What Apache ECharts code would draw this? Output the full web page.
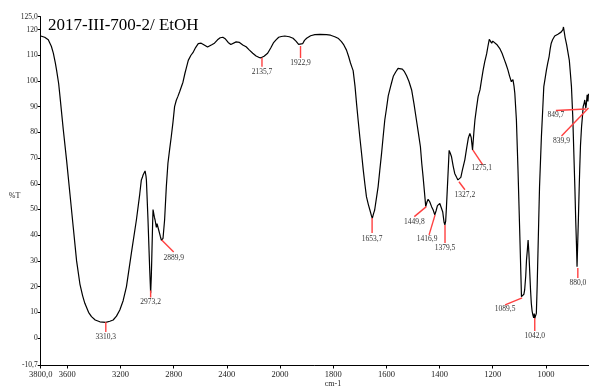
<!DOCTYPE html>
<html><head><meta charset="utf-8">
<script src="https://cdn.jsdelivr.net/npm/echarts@6/dist/echarts.min.js"></script>
<style>html,body{margin:0;padding:0;background:#fff}#c{width:589px;height:389px}</style>
</head><body><div id="c"></div>
<script>
// ---- data ----
const chartTitle = '2017-III-700-2/ EtOH';
const xAxisName = 'cm-1';
const yAxisName = '%T';
const wavenumbers = [3800,3792,3770,3743,3720,3705,3690,3680,3665,3655,3630,3605,3580,3555,3530,3505,3485,3468,3440,3418,3390,3355,3310,3280,3255,3230,3205,3180,3155,3118,3080,3055,3043,3035,3030,3022,3015,3008,3005,2993,2980,2973,2968,2965,2958,2955,2950,2945,2940,2930,2925,2920,2915,2910,2900,2892,2885,2880,2868,2855,2843,2830,2818,2805,2793,2780,2768,2755,2730,2715,2705,2690,2670,2655,2635,2615,2593,2570,2545,2530,2510,2493,2470,2450,2430,2410,2390,2370,2355,2330,2305,2280,2255,2230,2205,2180,2160,2143,2120,2093,2070,2050,2030,2010,1995,1982,1965,1951,1940,1930,1923,1915,1908,1900,1885,1869,1850,1825,1810,1794,1780,1769,1760,1750,1742,1735,1730,1725,1718,1712,1706,1700,1693,1687,1681,1675,1668,1662,1656,1653,1648,1644,1638,1631,1625,1618,1612,1606,1600,1593,1585,1580,1574,1565,1556,1549,1540,1532,1524,1515,1505,1496,1487,1480,1472,1467,1462,1457,1452,1447,1443,1437,1430,1424,1418,1413,1408,1405,1399,1393,1388,1383,1380,1377,1374,1369,1364,1360,1355,1349,1343,1336,1331,1326,1320,1314,1305,1298,1292,1286,1281,1276,1271,1267,1261,1255,1248,1242,1236,1230,1223,1218,1213,1208,1204,1200,1193,1185,1174,1165,1156,1150,1143,1137,1130,1124,1120,1117,1111,1105,1098,1094,1092,1089,1086,1083,1080,1076,1073,1070,1067,1064,1061,1058,1055,1052,1049,1046,1044,1042,1039,1036,1033,1030,1027,1024,1020,1017,1012,1008,1003,998,993,988,984,980,975,967,960,955,949,943,940,936,934,931,928,926,922,917,912,908,904,899,895,891,888,885,883,880,878,875,873,870,866,862,860,856,854,852,850,848,845,842,840];
const transmittance = [117.5,117.5,117,116,113.5,110.8,107,104,99,94,81,69,56,43,30,21,16.5,13.5,10,8.3,7,6.3,6.1,6.5,7,8.5,10.9,14.5,20,33,46,56,61.5,62.5,63.4,62.8,65,63,61.5,46,26.5,17.4,24,30,45,50,50,47,46,43,44.5,44.8,42.5,42,39.5,38,38.3,38.8,46,59,68,73.5,78.3,84,90,92.5,94,95.8,99.5,103,105,108,110,111,113,114.5,114.7,114,113.2,113.3,114.2,114.7,116,116.8,117,116.3,115,114.2,114.4,115.2,115,114,113.3,112,110.8,109.7,109.2,109,109.6,110.8,112.8,114.8,116,117,117.3,117.5,117.2,116.6,115.5,114.2,113.6,114.5,115.8,116.6,117.6,118,118.1,118,117.8,117.2,116.5,115.3,114,112,109.5,107,105.5,104,98,91,84.5,78.3,71.5,65.4,60,55,52,49.8,47.5,46.6,48.5,49.8,54,58.9,65,71.9,78.5,84.8,89,94.2,97.5,99.5,101.8,103.5,104.9,105.2,104.6,103.6,102,99.8,96.5,91,84.8,80,74.4,68,62.8,57,51.1,53,54,53,51.1,49.8,47.9,49.5,51.5,52.1,52.3,51.8,49,45,44,45.5,51.1,62,73,72,70.5,67,64,62.5,61.5,60.8,62.5,65.4,69.3,74,77.7,79.6,78,73.2,80,84.8,89.5,93.9,96.5,100.5,104.3,107.5,110.5,113.5,116.2,115.5,114.7,115.5,115.3,114.2,112.7,110.8,108.2,106.5,104.3,102,99.7,100.5,98,95.2,84.8,65.4,39.4,24,16.1,15.4,15.6,17,18.7,24,30.4,34,38.1,33,26,19,13.5,10.5,8.9,7.8,9.5,7.7,7.9,9.6,20,33,46,58.9,70,78.3,89,97.8,101,104.3,107,109.5,112.5,114.7,116,117.5,117.3,118.2,118,119,118.5,120,121,119,117,116.6,114,113.3,108,103,97.8,86,71.9,58,45.9,36,27.7,27,45.9,58,65.4,75,82.2,87,90,91.5,92.6,91,89.4,91,94.6,92,95];
const peakWavenumbers = [3310.3,2973.2,2889.9,2135.7,1922.9,1653.7,1449.8,1416.9,1379.5,1327.2,1275.1,1089.5,1042.0,880.0,849.7,839.9];
const peakTransmittance = [6.2,18.5,38.1,109,113.6,46.7,51.1,47.9,44,60.8,73.2,15.6,7.8,27.2,89.1,89.5];
const xTickValues = [3800,3600,3200,2800,2400,2000,1800,1600,1400,1200,1000];
const yTickValues = [-10.7,0,10,20,30,40,50,60,70,80,90,100,110,120,125];

// ---- styling (pixel offsets of peak leader lines / labels) ----
const peakLeader = [
  [0,10,0,15],[0,7,0,11.5],[12,12,12,18],[0,9,0,14.5],[0,12,0,17],[0,15,0,21],
  [-12,10,-12,15],[-6,20,-8,24.5],[0,18,0,23],[6,8,6,13.5],[10,15,9,18.5],
  [-17,7,-17,11.5],[0,13,0,18],[0,10,0,15],[-30,1.5,-30,6],[-27,28,-27,33]
];

// x axis is expanded 2x below 2000 cm-1
function toAxis(w){ return w >= 2000 ? w : 2*w - 2000; }
function fromAxis(u){ return u >= 2000 ? u : (u + 2000)/2; }
function fmtComma(v, d){ return v.toFixed(d).replace('.', ','); }

const serif = '"Liberation Serif","Times New Roman",serif';
const chart = echarts.init(document.getElementById('c'), null, {renderer:'canvas'});
chart.setOption({
  animation:false,
  backgroundColor:'#fff',
  grid:{left:40.7, right:0, top:16.7, bottom:23.5, containLabel:false},
  xAxis:{
    type:'value', inverse:true, min:toAxis(838), max:toAxis(3800),
    splitLine:{show:false},
    axisLine:{onZero:false, lineStyle:{color:'#000', width:1}},
    axisTick:{customValues:xTickValues.map(toAxis), length:3, lineStyle:{color:'#000'}},
    axisLabel:{customValues:xTickValues.map(toAxis), margin:5, fontSize:8.5, fontFamily:serif, color:'#222',
      formatter:function(u){ const w = Math.round(fromAxis(u)); return w===3800 ? '3800,0' : String(w); }}
  },
  yAxis:{
    type:'value', min:-10.7, max:125,
    splitLine:{show:false},
    axisLine:{show:true, onZero:false, lineStyle:{color:'#000', width:1}},
    axisTick:{show:true, customValues:yTickValues, length:3, lineStyle:{color:'#000'}},
    axisLabel:{customValues:yTickValues, margin:3, fontSize:7.5, fontFamily:serif, color:'#222',
      formatter:function(v){ if(Math.abs(v+10.7)<1e-6) return '-10,7'; if(Math.abs(v-125)<1e-6) return '125,0'; return String(Math.round(v)); }}
  },
  graphic:[
    {type:'text', left:48, top:17, style:{text:chartTitle, font:'17px '+serif, fill:'#000'}},
    {type:'text', x:14.5, y:196, style:{text:yAxisName, font:'8px '+serif, fill:'#222', align:'center', verticalAlign:'middle'}},
    {type:'text', x:333, y:384, style:{text:xAxisName, font:'8px '+serif, fill:'#222', align:'center', verticalAlign:'middle'}}
  ],
  series:[
    {type:'line', showSymbol:false, symbol:'none', clip:true,
     data:wavenumbers.map((w,i)=>[toAxis(w), transmittance[i]]),
     lineStyle:{color:'#000', width:1.2}},
    {type:'custom', clip:false, z:5,
     data:peakWavenumbers.map((w,i)=>[toAxis(w), peakTransmittance[i]]),
     renderItem:function(params, api){
       const p = api.coord([api.value(0), api.value(1)]);
       const o = peakLeader[params.dataIndex];
       const label = fmtComma(peakWavenumbers[params.dataIndex], 1);
       return {type:'group', children:[
         {type:'line', shape:{x1:p[0], y1:p[1], x2:p[0]+o[0], y2:p[1]+o[1]}, style:{stroke:'#ff4040', lineWidth:1.4}},
         {type:'text', x:p[0]+o[2], y:p[1]+o[3], style:{text:label, font:'7.5px '+serif, fill:'#333', align:'center', verticalAlign:'middle'}}
       ]};
     }}
  ]
});
</script>
</body></html>
